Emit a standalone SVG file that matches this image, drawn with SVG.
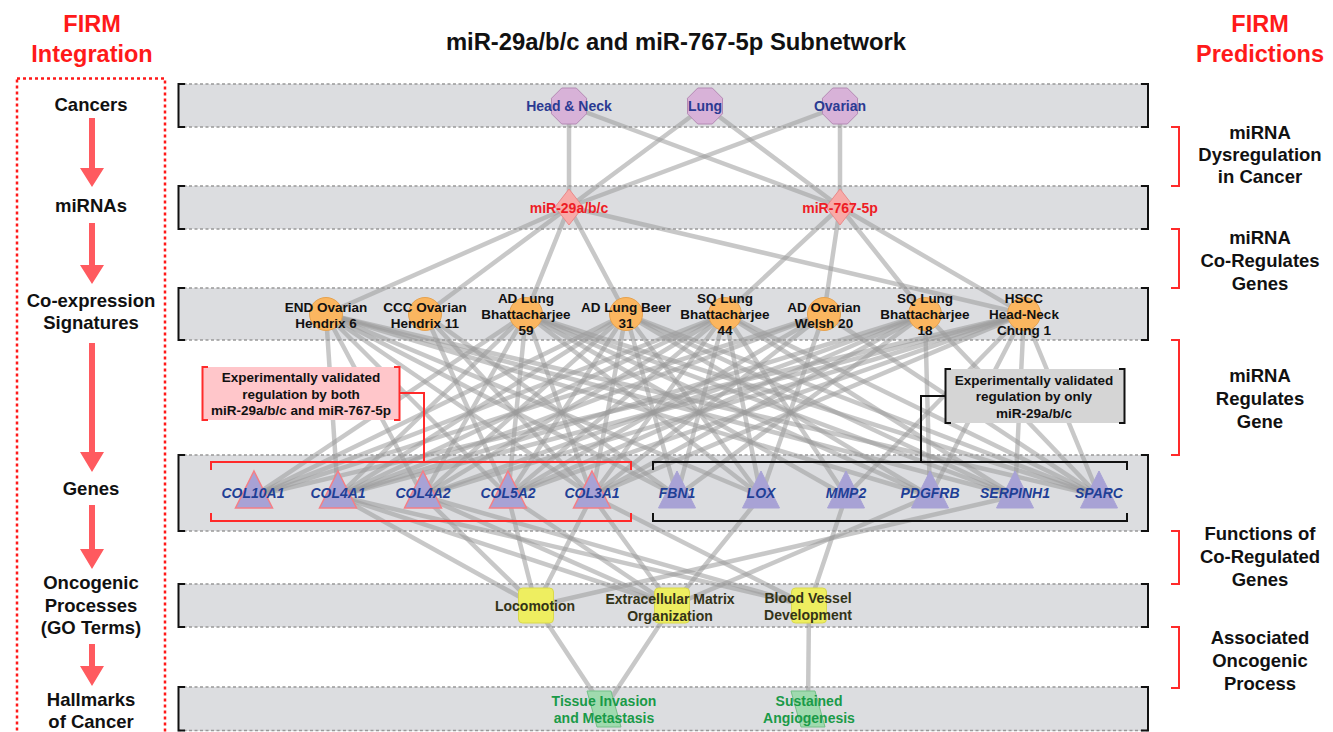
<svg xmlns="http://www.w3.org/2000/svg" xmlns:xlink="http://www.w3.org/1999/xlink" width="1333" height="732" viewBox="0 0 1333 732">
<style>
text{font-family:"Liberation Sans",Arial,sans-serif;font-weight:bold;text-anchor:middle}
.band{fill:#dcdde0}
.bl{stroke:#999;stroke-width:1.5;stroke-dasharray:3 2.5;fill:none}
.brk{fill:none;stroke:#111;stroke-width:2}
.rbrk{fill:none;stroke:#ff2a2a;stroke-width:2}
.edge line{stroke:#9a9a9a;stroke-opacity:.55;stroke-width:4.5;stroke-linecap:round}
.arrow{fill:#ff5a5f}
.side{font-size:18.5px;fill:#111}
.firm{font-size:23.5px;fill:#ff1a1a}
.can{font-size:14px;fill:#2b3a92}
.mir{font-size:14px;fill:#ee1c25}
.sig{font-size:13.5px;fill:#111}
.gene{font-size:14px;fill:#1f3f96;font-style:italic}
.proc{font-size:14px;fill:#333318}
.hall{font-size:14px;fill:#1a9a48}
.note{font-size:13.5px;fill:#111}
.oct{fill:#d8b2d8;stroke:#b48ab4;stroke-width:1}
.dia{fill:#f7aaa8;stroke:#e98a8a;stroke-width:1}
.cir{fill:#fbb660;stroke:#e6a24e;stroke-width:1}
.tri{fill:#a8a2d5;stroke:#a8a2d5;stroke-width:1}
.tri.col{stroke:#f47f86;stroke-width:1.5}
.pr{fill:#eeee60;stroke:#d9d94c;stroke-width:1}
.hm{fill:#9fdaae;stroke:#74c088;stroke-width:1}
</style>
<defs>
<path id="oct" d="M-7.25,-18 L7.25,-18 L17.5,-7.75 L17.5,7.75 L7.25,18 L-7.25,18 L-17.5,7.75 L-17.5,-7.75 Z"/>
<path id="dia" d="M0,-18 L14,0 L0,18 L-14,0 Z"/>
<circle id="cir" r="16.5"/>
<path id="tri" d="M0,-24.5 L18.5,12.5 L-18.5,12.5 Z"/>
<rect id="prc" x="-17.5" y="-17.5" width="35" height="35" rx="4"/>
<path id="par" d="M-17,-18 L7,-18 L17,18 L-7,18 Z"/>
</defs>
<rect width="1333" height="732" fill="#fff"/>

<!-- titles -->
<text x="676" y="50" style="font-size:23.8px;fill:#111">miR-29a/b/c and miR-767-5p Subnetwork</text>
<text class="firm" x="92" y="32">FIRM</text>
<text class="firm" x="92" y="62">Integration</text>
<text class="firm" x="1260" y="32">FIRM</text>
<text class="firm" x="1260" y="62">Predictions</text>

<!-- left integration column -->
<g id="integration">
<rect x="17" y="78.5" width="148" height="700" fill="none" stroke="#ff1a1a" stroke-width="2.5" stroke-dasharray="3 3"/>
<text class="side" x="91" y="111">Cancers</text>
<text class="side" x="91" y="212">miRNAs</text>
<text class="side" x="91" y="307">Co-expression</text>
<text class="side" x="91" y="329">Signatures</text>
<text class="side" x="91" y="495">Genes</text>
<text class="side" x="91" y="589">Oncogenic</text>
<text class="side" x="91" y="612">Processes</text>
<text class="side" x="91" y="634">(GO Terms)</text>
<text class="side" x="91" y="706">Hallmarks</text>
<text class="side" x="91" y="728">of Cancer</text>
<path class="arrow" d="M89,118 H95 V168 H104 L92,187 L80,168 H89 Z"/>
<path class="arrow" d="M89,223 H95 V265 H104 L92,284 L80,265 H89 Z"/>
<path class="arrow" d="M89,343 H95 V452 H104 L92,472 L80,452 H89 Z"/>
<path class="arrow" d="M89,505 H95 V549 H104 L92,569 L80,549 H89 Z"/>
<path class="arrow" d="M89,644 H95 V666 H104 L92,686 L80,666 H89 Z"/>
</g>

<!-- right predictions column -->
<g id="predictions">
<path class="rbrk" d="M1171,127 H1179 V186 H1171"/>
<text class="side" x="1260" y="139">miRNA</text>
<text class="side" x="1260" y="161">Dysregulation</text>
<text class="side" x="1260" y="183">in Cancer</text>
<path class="rbrk" d="M1171,229 H1179 V288 H1171"/>
<text class="side" x="1260" y="244">miRNA</text>
<text class="side" x="1260" y="267">Co-Regulates</text>
<text class="side" x="1260" y="290">Genes</text>
<path class="rbrk" d="M1171,340 H1179 V455 H1171"/>
<text class="side" x="1260" y="382">miRNA</text>
<text class="side" x="1260" y="405">Regulates</text>
<text class="side" x="1260" y="428">Gene</text>
<path class="rbrk" d="M1171,531 H1179 V584 H1171"/>
<text class="side" x="1260" y="540">Functions of</text>
<text class="side" x="1260" y="563">Co-Regulated</text>
<text class="side" x="1260" y="586">Genes</text>
<path class="rbrk" d="M1171,627 H1179 V688 H1171"/>
<text class="side" x="1260" y="644">Associated</text>
<text class="side" x="1260" y="667">Oncogenic</text>
<text class="side" x="1260" y="690">Process</text>
</g>

<!-- bands -->
<g id="bands">
<rect class="band" x="178" y="84" width="970" height="43"/>
<path class="bl" d="M178,84 H1148 M178,127 H1148"/>
<path class="brk" d="M185,84 H178.5 V127 H185 M1141,84 H1148 V127 H1141"/>
<rect class="band" x="178" y="186" width="970" height="43"/>
<path class="bl" d="M178,186 H1148 M178,229 H1148"/>
<path class="brk" d="M185,186 H178.5 V229 H185 M1141,186 H1148 V229 H1141"/>
<rect class="band" x="178" y="288" width="970" height="52"/>
<path class="bl" d="M178,288 H1148 M178,340 H1148"/>
<path class="brk" d="M185,288 H178.5 V340 H185 M1141,288 H1148 V340 H1141"/>
<rect class="band" x="178" y="455" width="970" height="76"/>
<path class="bl" d="M178,455 H1148 M178,531 H1148"/>
<path class="brk" d="M185,455 H178.5 V531 H185 M1141,455 H1148 V531 H1141"/>
<rect class="band" x="178" y="584" width="970" height="43"/>
<path class="bl" d="M178,584 H1148 M178,627 H1148"/>
<path class="brk" d="M185,584 H178.5 V627 H185 M1141,584 H1148 V627 H1141"/>
<rect class="band" x="178" y="687" width="970" height="44"/>
<path class="bl" d="M178,687 H1148 M178,730.5 H1148"/>
<path class="brk" d="M185,687 H178.5 V730.5 H185 M1141,687 H1148 V730.5 H1141"/>
</g>

<!-- connectors -->
<g id="connectors" class="edge">
<line x1="569" y1="106" x2="569" y2="207"/>
<line x1="569" y1="106" x2="840" y2="207"/>
<line x1="705" y1="106" x2="569" y2="207"/>
<line x1="705" y1="106" x2="840" y2="207"/>
<line x1="840" y1="106" x2="569" y2="207"/>
<line x1="840" y1="106" x2="840" y2="207"/>
<line x1="569" y1="207" x2="326" y2="314"/>
<line x1="569" y1="207" x2="425" y2="314"/>
<line x1="569" y1="207" x2="526" y2="314"/>
<line x1="569" y1="207" x2="626" y2="314"/>
<line x1="569" y1="207" x2="1024" y2="314"/>
<line x1="840" y1="207" x2="725" y2="314"/>
<line x1="840" y1="207" x2="824" y2="314"/>
<line x1="840" y1="207" x2="925" y2="314"/>
<line x1="840" y1="207" x2="1024" y2="314"/>
<!-- END Ovarian Hendrix 6 -->
<line x1="326" y1="314" x2="338" y2="496"/>
<line x1="326" y1="314" x2="423" y2="496"/>
<line x1="326" y1="314" x2="508" y2="496"/>
<line x1="326" y1="314" x2="592" y2="496"/>
<line x1="326" y1="314" x2="677" y2="496"/>
<line x1="326" y1="314" x2="761" y2="496"/>
<line x1="326" y1="314" x2="930" y2="496"/>
<line x1="326" y1="314" x2="1015" y2="496"/>
<line x1="326" y1="314" x2="1099" y2="496"/>
<!-- CCC Ovarian Hendrix 11 -->
<line x1="425" y1="314" x2="508" y2="496"/>
<line x1="425" y1="314" x2="592" y2="496"/>
<line x1="425" y1="314" x2="677" y2="496"/>
<!-- AD Lung Bhattacharjee 59 -->
<line x1="526" y1="314" x2="254" y2="496"/>
<line x1="526" y1="314" x2="338" y2="496"/>
<line x1="526" y1="314" x2="423" y2="496"/>
<line x1="526" y1="314" x2="508" y2="496"/>
<line x1="526" y1="314" x2="592" y2="496"/>
<line x1="526" y1="314" x2="761" y2="496"/>
<line x1="526" y1="314" x2="846" y2="496"/>
<line x1="526" y1="314" x2="930" y2="496"/>
<line x1="526" y1="314" x2="1015" y2="496"/>
<line x1="526" y1="314" x2="1099" y2="496"/>
<!-- AD Lung Beer 31 -->
<line x1="626" y1="314" x2="254" y2="496"/>
<line x1="626" y1="314" x2="338" y2="496"/>
<line x1="626" y1="314" x2="423" y2="496"/>
<line x1="626" y1="314" x2="508" y2="496"/>
<line x1="626" y1="314" x2="592" y2="496"/>
<line x1="626" y1="314" x2="677" y2="496"/>
<line x1="626" y1="314" x2="761" y2="496"/>
<line x1="626" y1="314" x2="930" y2="496"/>
<line x1="626" y1="314" x2="1015" y2="496"/>
<line x1="626" y1="314" x2="1099" y2="496"/>
<!-- SQ Lung Bhattacharjee 44 -->
<line x1="725" y1="314" x2="254" y2="496"/>
<line x1="725" y1="314" x2="338" y2="496"/>
<line x1="725" y1="314" x2="423" y2="496"/>
<line x1="725" y1="314" x2="508" y2="496"/>
<line x1="725" y1="314" x2="592" y2="496"/>
<line x1="725" y1="314" x2="677" y2="496"/>
<line x1="725" y1="314" x2="761" y2="496"/>
<line x1="725" y1="314" x2="846" y2="496"/>
<line x1="725" y1="314" x2="1015" y2="496"/>
<line x1="725" y1="314" x2="1099" y2="496"/>
<!-- AD Ovarian Welsh 20 -->
<line x1="824" y1="314" x2="254" y2="496"/>
<line x1="824" y1="314" x2="338" y2="496"/>
<line x1="824" y1="314" x2="508" y2="496"/>
<line x1="824" y1="314" x2="592" y2="496"/>
<line x1="824" y1="314" x2="761" y2="496"/>
<line x1="824" y1="314" x2="1099" y2="496"/>
<!-- SQ Lung Bhattacharjee 18 -->
<line x1="925" y1="314" x2="338" y2="496"/>
<line x1="925" y1="314" x2="423" y2="496"/>
<line x1="925" y1="314" x2="508" y2="496"/>
<line x1="925" y1="314" x2="592" y2="496"/>
<line x1="925" y1="314" x2="677" y2="496"/>
<line x1="925" y1="314" x2="930" y2="496"/>
<line x1="925" y1="314" x2="1099" y2="496"/>
<!-- HSCC Head-Neck Chung 1 -->
<line x1="1024" y1="314" x2="254" y2="496"/>
<line x1="1024" y1="314" x2="338" y2="496"/>
<line x1="1024" y1="314" x2="423" y2="496"/>
<line x1="1024" y1="314" x2="508" y2="496"/>
<line x1="1024" y1="314" x2="592" y2="496"/>
<line x1="1024" y1="314" x2="846" y2="496"/>
<line x1="1024" y1="314" x2="930" y2="496"/>
<line x1="1024" y1="314" x2="1015" y2="496"/>
<line x1="1024" y1="314" x2="1099" y2="496"/>
<!-- genes to processes -->
<line x1="338" y1="496" x2="536" y2="606"/>
<line x1="338" y1="496" x2="672" y2="606"/>
<line x1="338" y1="496" x2="809" y2="606"/>
<line x1="423" y1="496" x2="536" y2="606"/>
<line x1="423" y1="496" x2="672" y2="606"/>
<line x1="423" y1="496" x2="809" y2="606"/>
<line x1="508" y1="496" x2="536" y2="606"/>
<line x1="508" y1="496" x2="672" y2="606"/>
<line x1="592" y1="496" x2="536" y2="606"/>
<line x1="592" y1="496" x2="672" y2="606"/>
<line x1="592" y1="496" x2="809" y2="606"/>
<line x1="761" y1="496" x2="672" y2="606"/>
<line x1="846" y1="496" x2="809" y2="606"/>
<line x1="930" y1="496" x2="672" y2="606"/>
<line x1="1015" y1="496" x2="536" y2="606"/>
<!-- processes to hallmarks -->
<line x1="536" y1="606" x2="604" y2="709"/>
<line x1="672" y1="606" x2="604" y2="709"/>
<line x1="809" y1="606" x2="808" y2="709"/>
</g>

<!-- annotation: validated by both -->
<g id="note-both">
<path d="M400,393 H424 V462" fill="none" stroke="#ff2a2a" stroke-width="2"/>
<rect x="202" y="367" width="198" height="53" fill="#ffc6ca"/>
<path class="rbrk" d="M208,367 H202.5 V420 H208 M394,367 H399.5 V420 H394"/>
<text class="note" x="301" y="382">Experimentally validated</text>
<text class="note" x="301" y="398.5">regulation by both</text>
<text class="note" x="301" y="415">miR-29a/b/c and miR-767-5p</text>
<path class="rbrk" d="M211,470 V462 H631 V470 M211,513 V521 H631 V513"/>
</g>

<!-- annotation: validated by only miR-29 -->
<g id="note-only">
<path d="M945,396 H921 V462" fill="none" stroke="#111" stroke-width="2"/>
<rect x="945" y="369" width="180" height="54" fill="#d5d5d5"/>
<path class="brk" d="M951,369 H945.5 V423 H951 M1119,369 H1124.5 V423 H1119"/>
<text class="note" x="1034" y="384.5">Experimentally validated</text>
<text class="note" x="1034" y="401">regulation by only</text>
<text class="note" x="1034" y="417.5">miR-29a/b/c</text>
<path class="brk" d="M653,470 V462 H1127 V470 M653,513 V521 H1127 V513"/>
</g>

<!-- cancers -->
<g id="cancer-head-neck"><use href="#oct" class="oct" x="569" y="106"/><text class="can" x="569" y="111">Head &amp; Neck</text></g>
<g id="cancer-lung"><use href="#oct" class="oct" x="705" y="106"/><text class="can" x="705" y="111">Lung</text></g>
<g id="cancer-ovarian"><use href="#oct" class="oct" x="840" y="106"/><text class="can" x="840" y="111">Ovarian</text></g>

<!-- miRNAs -->
<g id="mir-29"><use href="#dia" class="dia" x="569" y="207"/><text class="mir" x="569" y="212.5">miR-29a/b/c</text></g>
<g id="mir-767"><use href="#dia" class="dia" x="840" y="207"/><text class="mir" x="840" y="212.5">miR-767-5p</text></g>

<!-- co-expression signatures -->
<g id="sig-end-ovarian"><use href="#cir" class="cir" x="326" y="314"/><text class="sig" x="326" y="312">END Ovarian</text><text class="sig" x="326" y="328">Hendrix 6</text></g>
<g id="sig-ccc-ovarian"><use href="#cir" class="cir" x="425" y="314"/><text class="sig" x="425" y="312">CCC Ovarian</text><text class="sig" x="425" y="328">Hendrix 11</text></g>
<g id="sig-ad-lung-59"><use href="#cir" class="cir" x="526" y="314"/><text class="sig" x="526" y="303">AD Lung</text><text class="sig" x="526" y="319">Bhattacharjee</text><text class="sig" x="526" y="335">59</text></g>
<g id="sig-ad-lung-beer"><use href="#cir" class="cir" x="626" y="314"/><text class="sig" x="626" y="312">AD Lung Beer</text><text class="sig" x="626" y="328">31</text></g>
<g id="sig-sq-lung-44"><use href="#cir" class="cir" x="725" y="314"/><text class="sig" x="725" y="303">SQ Lung</text><text class="sig" x="725" y="319">Bhattacharjee</text><text class="sig" x="725" y="335">44</text></g>
<g id="sig-ad-ovarian"><use href="#cir" class="cir" x="824" y="314"/><text class="sig" x="824" y="312">AD Ovarian</text><text class="sig" x="824" y="328">Welsh 20</text></g>
<g id="sig-sq-lung-18"><use href="#cir" class="cir" x="925" y="314"/><text class="sig" x="925" y="303">SQ Lung</text><text class="sig" x="925" y="319">Bhattacharjee</text><text class="sig" x="925" y="335">18</text></g>
<g id="sig-hscc"><use href="#cir" class="cir" x="1024" y="314"/><text class="sig" x="1024" y="303">HSCC</text><text class="sig" x="1024" y="319">Head-Neck</text><text class="sig" x="1024" y="335">Chung 1</text></g>

<!-- genes -->
<g id="gene-col10a1"><use href="#tri" class="tri col" x="254" y="495.5"/><text class="gene" x="253" y="498">COL10A1</text></g>
<g id="gene-col4a1"><use href="#tri" class="tri col" x="338" y="495.5"/><text class="gene" x="338" y="498">COL4A1</text></g>
<g id="gene-col4a2"><use href="#tri" class="tri col" x="423" y="495.5"/><text class="gene" x="423" y="498">COL4A2</text></g>
<g id="gene-col5a2"><use href="#tri" class="tri col" x="508" y="495.5"/><text class="gene" x="508" y="498">COL5A2</text></g>
<g id="gene-col3a1"><use href="#tri" class="tri col" x="592" y="495.5"/><text class="gene" x="592" y="498">COL3A1</text></g>
<g id="gene-fbn1"><use href="#tri" class="tri" x="677" y="495.5"/><text class="gene" x="677" y="498">FBN1</text></g>
<g id="gene-lox"><use href="#tri" class="tri" x="761" y="495.5"/><text class="gene" x="761" y="498">LOX</text></g>
<g id="gene-mmp2"><use href="#tri" class="tri" x="846" y="495.5"/><text class="gene" x="846" y="498">MMP2</text></g>
<g id="gene-pdgfrb"><use href="#tri" class="tri" x="930" y="495.5"/><text class="gene" x="930" y="498">PDGFRB</text></g>
<g id="gene-serpinh1"><use href="#tri" class="tri" x="1015" y="495.5"/><text class="gene" x="1015" y="498">SERPINH1</text></g>
<g id="gene-sparc"><use href="#tri" class="tri" x="1099" y="495.5"/><text class="gene" x="1099" y="498">SPARC</text></g>

<!-- processes -->
<g id="proc-locomotion"><use href="#prc" class="pr" x="536" y="605.5"/><text class="proc" x="535" y="611">Locomotion</text></g>
<g id="proc-ecm"><use href="#prc" class="pr" x="672" y="605.5"/><text class="proc" x="670" y="604">Extracellular Matrix</text><text class="proc" x="670" y="621">Organization</text></g>
<g id="proc-blood-vessel"><use href="#prc" class="pr" x="809" y="605.5"/><text class="proc" x="808" y="603">Blood Vessel</text><text class="proc" x="808" y="620">Development</text></g>

<!-- hallmarks -->
<g id="hall-invasion"><use href="#par" class="hm" x="604" y="709"/><text class="hall" x="604" y="706">Tissue Invasion</text><text class="hall" x="604" y="723">and Metastasis</text></g>
<g id="hall-angiogenesis"><use href="#par" class="hm" x="808" y="709"/><text class="hall" x="809" y="706">Sustained</text><text class="hall" x="809" y="723">Angiogenesis</text></g>
</svg>
